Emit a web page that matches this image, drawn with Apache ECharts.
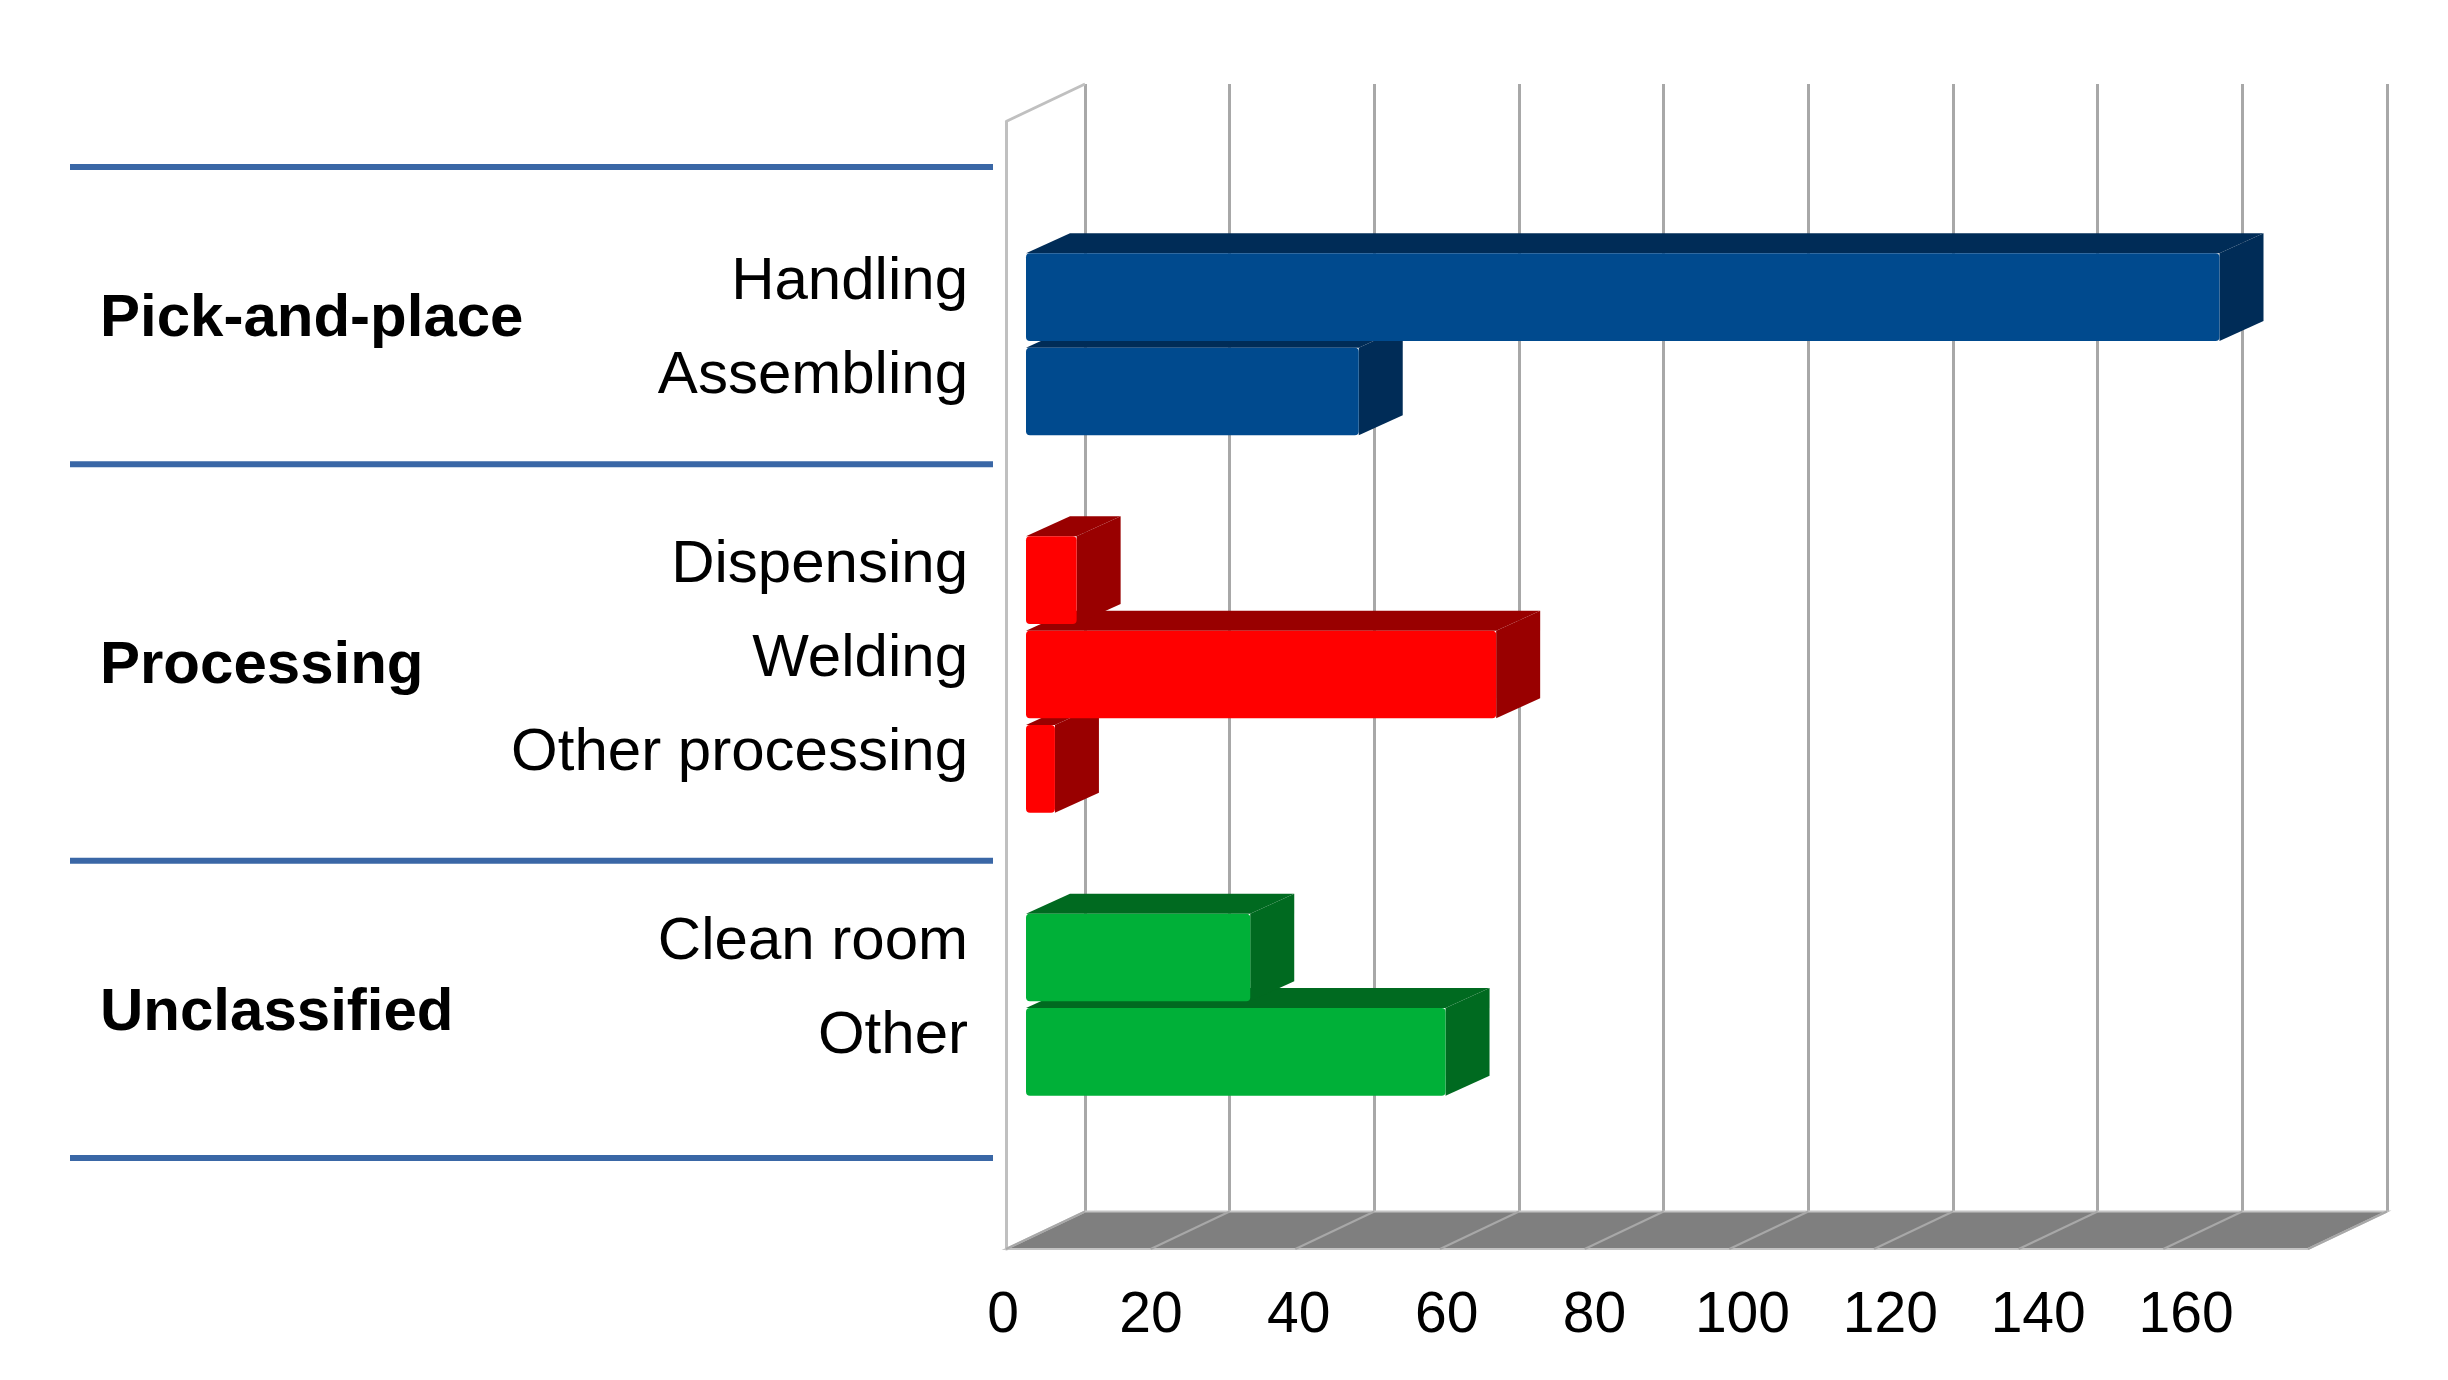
<!DOCTYPE html>
<html>
<head>
<meta charset="utf-8">
<title>Applications by category</title>
<script src="https://cdn.jsdelivr.net/npm/echarts@6.0.0/dist/echarts.min.js"></script>
<style>
  html, body { margin: 0; padding: 0; background: #fff; }
  #chart { width: 2448px; height: 1380px; }
</style>
</head>
<body>
<div id="chart"></div>
<script>
// data
const groups = ['Pick-and-place', 'Processing', 'Unclassified'];
const categories = ['Handling', 'Assembling', 'Dispensing', 'Welding', 'Other processing', 'Clean room', 'Other'];
const categoryGroup = [0, 0, 1, 1, 1, 2, 2];
const values = [165, 46, 7, 65, 4, 31, 58];
const xTicks = [0, 20, 40, 60, 80, 100, 120, 140, 160, 180];

// colours per group: front face, top / side face
const groupColors = [
  ['#004a8e', '#002c57'],
  ['#ff0000', '#990000'],
  ['#00b038', '#006a20']
];

const FONT = '"Liberation Sans", Arial, sans-serif';
const floorDepth = [79, -37.5];   // pixel shift of the back wall
const barDepth = [44, -20];       // pixel depth of a bar

const axisMin = xTicks[0];
const axisMax = xTicks[xTicks.length - 1];
const step = xTicks[1] - xTicks[0];

// one slot per category, a blank slot between groups
const slots = [];
const slotOfCategory = [];
categories.forEach((c, i) => {
  if (i > 0 && categoryGroup[i] !== categoryGroup[i - 1]) {
    slots.push(' '.repeat(slots.length));
  }
  slotOfCategory.push(slots.length);
  slots.push(c);
});

// group bands on the left: each group takes its categories plus one
const groupSizes = groups.map((g, gi) => categoryGroup.filter((x) => x === gi).length + 1);
const groupBounds = [0];
groupSizes.forEach((s) => groupBounds.push(groupBounds[groupBounds.length - 1] + s));
const groupCenters = groupSizes.map((s, i) => groupBounds[i] + s / 2);

// lower bars first so upper ones cover their top faces
const barData = categories
  .map((c, i) => [values[i], slotOfCategory[i], categoryGroup[i]])
  .reverse();

function shift(p, d) {
  return [p[0] + d[0], p[1] + d[1]];
}

function renderFloor(params, api) {
  const a = api.coord([axisMin, 0]);
  const b = api.coord([axisMax, 0]);
  return {
    type: 'polygon',
    shape: { points: [a, b, shift(b, floorDepth), shift(a, floorDepth)] },
    style: { fill: '#7f7f7f', stroke: '#c4c4c4', lineWidth: 2 }
  };
}

function renderFloorLine(params, api) {
  const p = api.coord([api.value(0), 0]);
  const q = shift(p, floorDepth);
  return {
    type: 'line',
    shape: { x1: p[0], y1: p[1], x2: q[0], y2: q[1] },
    style: { stroke: '#a8a8a8', lineWidth: 2 }
  };
}

function renderWallTop(params, api) {
  const p = api.coord([axisMin, 1]);
  const q = shift(p, floorDepth);
  return {
    type: 'line',
    shape: { x1: p[0], y1: p[1], x2: q[0], y2: q[1] },
    style: { stroke: '#c0c0c0', lineWidth: 3 }
  };
}

function renderBar(params, api) {
  const slot = api.value(1);
  const start = api.coord([0, slot]);
  const end = api.coord([api.value(0), slot]);
  const h = api.size([0, 1])[1] * 0.93;
  const colors = groupColors[api.value(2)];
  const x0 = start[0];
  const x1 = end[0];
  const y0 = start[1] - h / 2;
  const y1 = start[1] + h / 2;
  const dx = barDepth[0];
  const dy = barDepth[1];
  return {
    type: 'group',
    children: [
      {
        type: 'polygon',
        shape: { points: [[x0, y0], [x1, y0], [x1 + dx, y0 + dy], [x0 + dx, y0 + dy]] },
        style: { fill: colors[1] }
      },
      {
        type: 'polygon',
        shape: { points: [[x1, y0], [x1 + dx, y0 + dy], [x1 + dx, y1 + dy], [x1, y1]] },
        style: { fill: colors[1] }
      },
      {
        type: 'rect',
        shape: { x: x0, y: y0, width: x1 - x0, height: y1 - y0, r: 4 },
        style: { fill: colors[0] }
      }
    ]
  };
}

function renderSeparator(params, api) {
  const p = api.coord([0, api.value(1)]);
  const q = api.coord([1, api.value(1)]);
  return {
    type: 'line',
    shape: { x1: p[0], y1: p[1], x2: q[0], y2: q[1] },
    style: { stroke: '#3a67a6', lineWidth: 6 }
  };
}

function renderGroupLabel(params, api) {
  const p = api.coord([0, api.value(1)]);
  return {
    type: 'text',
    x: p[0] + 30,
    y: p[1] + 4,
    style: {
      text: groups[api.value(2)],
      fill: '#000',
      font: 'bold 60px ' + FONT,
      align: 'left',
      verticalAlign: 'middle'
    }
  };
}

const hiddenValue = (gridIndex, min, max, inverse) => ({
  type: 'value', gridIndex, min, max, inverse: !!inverse, show: false
});

const chart = echarts.init(document.getElementById('chart'));

chart.setOption({
  animation: false,
  backgroundColor: '#fff',
  textStyle: { fontFamily: FONT },
  grid: [
    { left: 1006, top: 121.5, width: 1302, height: 1127.5 },   // front plane (floor, left wall)
    { left: 1085, top: 84, width: 1302, height: 1128 },        // back wall
    { left: 1026, top: 250, width: 1302, height: 849 },        // bars
    { left: 1003, top: 121.5, width: 1331, height: 1127.5 },   // value labels
    { left: 70, top: 167, width: 923, height: 991 },           // group bands
    { left: 1026, top: 235, width: 1302, height: 849 }         // category labels
  ],
  xAxis: [
    hiddenValue(0, axisMin, axisMax),
    {
      type: 'value', gridIndex: 1, min: axisMin, max: axisMax, interval: step,
      axisLine: { show: false }, axisTick: { show: false }, axisLabel: { show: false },
      splitLine: { show: true, lineStyle: { color: '#a8a8a8', width: 3 } }
    },
    hiddenValue(2, axisMin, axisMax),
    {
      type: 'value', gridIndex: 3, min: axisMin, max: axisMax, interval: step,
      axisLine: { show: false }, axisTick: { show: false }, splitLine: { show: false },
      axisLabel: {
        showMaxLabel: false, margin: 67, fontSize: 57, color: '#000',
        fontFamily: FONT, verticalAlign: 'middle', lineHeight: 57
      }
    },
    hiddenValue(4, 0, 1),
    hiddenValue(5, axisMin, axisMax)
  ],
  yAxis: [
    {
      type: 'value', gridIndex: 0, min: 0, max: 1,
      axisLine: { show: true, lineStyle: { color: '#c0c0c0', width: 3 } },
      axisTick: { show: false }, axisLabel: { show: false }, splitLine: { show: false }
    },
    hiddenValue(1, 0, 1),
    { type: 'category', gridIndex: 2, data: slots, inverse: true, show: false },
    hiddenValue(3, 0, 1),
    hiddenValue(4, groupBounds[0], groupBounds[groupBounds.length - 1], true),
    {
      type: 'category', gridIndex: 5, data: slots, inverse: true,
      axisLine: { show: false }, axisTick: { show: false }, splitLine: { show: false },
      axisLabel: {
        margin: 58, fontSize: 60, color: '#000', fontFamily: FONT,
        verticalAlign: 'middle', lineHeight: 60
      }
    }
  ],
  series: [
    {
      type: 'custom', xAxisIndex: 0, yAxisIndex: 0,
      data: [[axisMin, 0]], renderItem: renderFloor
    },
    {
      type: 'custom', xAxisIndex: 0, yAxisIndex: 0,
      data: xTicks.map((v) => [v, 0]), renderItem: renderFloorLine
    },
    {
      type: 'custom', xAxisIndex: 0, yAxisIndex: 0,
      data: [[axisMin, 1]], renderItem: renderWallTop
    },
    {
      type: 'custom', xAxisIndex: 2, yAxisIndex: 2,
      data: barData, renderItem: renderBar
    },
    {
      type: 'custom', xAxisIndex: 4, yAxisIndex: 4,
      data: groupBounds.map((b) => [0, b]), renderItem: renderSeparator
    },
    {
      type: 'custom', xAxisIndex: 4, yAxisIndex: 4,
      data: groupCenters.map((c, i) => [0, c, i]), renderItem: renderGroupLabel
    }
  ]
});
</script>
</body>
</html>
